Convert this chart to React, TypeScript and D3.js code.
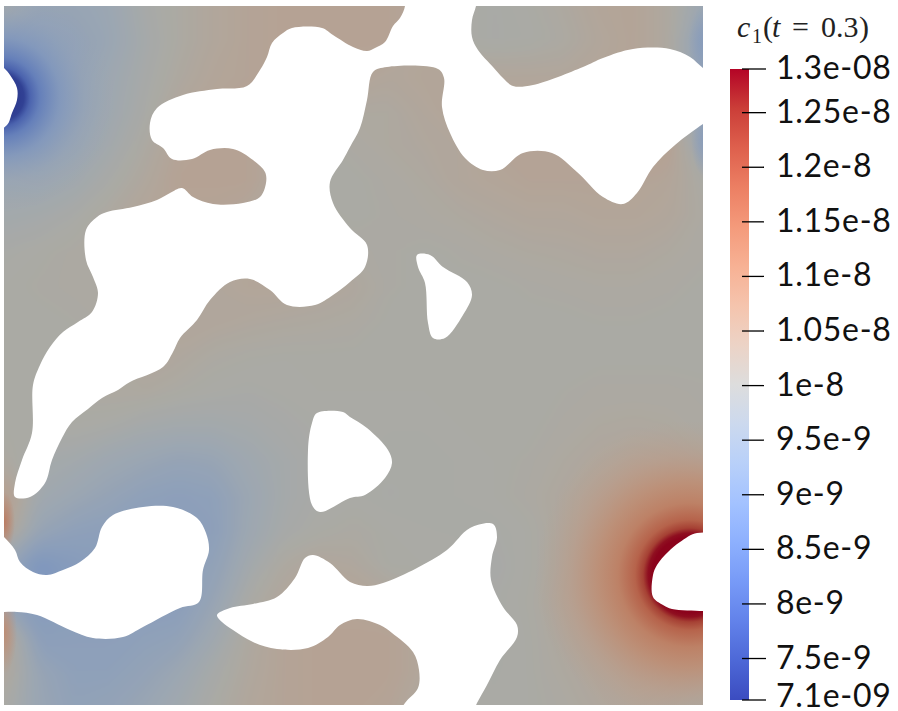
import React, { useMemo } from "react";
import * as d3 from "d3";

// concentration field, in units of 1e-9, 21 x 21 nodes
const fieldRows: number[][] = [
  [9.9,9.5,9.5,9.6,9.9,10.05,10.2,10.3,10.35,10.35,10.35,10.35,10.2,10,9.95,10,10.1,10.25,10.3,10.1,9.6],
  [9.5,9.3,9.4,9.55,9.85,10.05,10.2,10.3,10.35,10.35,10.35,10.35,10.2,10,9.95,9.98,10.05,10.2,10.3,10.1,9.3],
  [9.6,9.3,9.45,9.65,9.9,10.1,10.25,10.3,10.35,10.35,10.3,10.2,10.25,10.25,10.2,10.2,10.2,10.25,10.3,10.1,9.4],
  [9.5,9.3,9.45,9.7,9.95,10.2,10.3,10.3,10.3,10.2,10.1,10.1,10.2,10.3,10.3,10.3,10.3,10.3,10.35,10.2,9.5],
  [9.6,9.4,9.55,9.8,10.05,10.3,10.35,10.35,10.1,10,10.05,10.1,10.15,10.2,10.3,10.3,10.3,10.3,10.35,10.4,9.6],
  [9.7,9.65,9.75,9.95,10.15,10.35,10.35,10.35,10.1,10,10,10.05,10.1,10.2,10.25,10.3,10.3,10.3,10.3,10.25,10],
  [9.8,9.85,9.95,10.1,10.25,10.3,10.3,10.2,10.1,10.05,10,10.03,10.07,10.1,10.15,10.2,10.2,10.25,10.25,10.2,10.05],
  [9.95,10,10.05,10.1,10.1,10.1,10.1,10.2,10.2,10.15,10.05,10.03,10,10.03,10.07,10.1,10.12,10.15,10.15,10.1,10.05],
  [10,10.03,10.05,10.05,10.1,10.15,10.2,10.25,10.25,10.2,10.15,10.03,10,10,10,10.03,10.05,10.07,10.07,10.05,10],
  [10,10,10.02,10.05,10.1,10.2,10.2,10.15,10.12,10.1,10.07,10,10,10,10,10,10,10.02,10.02,10,10],
  [10,10,10.02,10.05,10.2,10.15,10.05,10.02,10,10,10,10,10,10,10,10,10,10,10,10,10],
  [10,10,10.05,10.1,10.1,10.03,9.98,9.95,9.98,10,10,10,10,10,10,10,10.02,10.05,10.05,10.05,10.03],
  [10,10,10,9.95,9.85,9.8,9.8,9.85,9.92,9.97,9.98,9.98,9.98,10,10,10,10.05,10.1,10.12,10.1,10.05],
  [10.1,9.85,9.8,9.65,9.55,9.45,9.5,9.7,9.85,9.95,9.98,9.97,9.97,9.98,10,10.03,10.1,10.18,10.25,10.2,10.1],
  [10.5,9.75,9.6,9.45,9.3,9.25,9.3,9.6,9.85,9.95,9.98,9.95,9.97,9.98,10,10.05,10.15,10.3,10.45,10.5,10.4],
  [10.3,9.5,9.3,9.25,9.25,9.25,9.25,9.65,9.9,10,10.05,10,9.98,9.97,9.95,10,10.15,10.35,10.55,10.8,10.9],
  [9.5,8.9,9.1,9.2,9.25,9.3,9.35,9.8,10.1,10.2,10.15,10,10,10,9.92,10,10.15,10.4,10.6,10.9,11],
  [9.4,9.1,9.2,9.2,9.2,9.2,9.5,10,10.2,10.3,10.3,10.2,10.1,10,9.95,10.02,10.2,10.4,10.6,10.9,11],
  [10.3,9.2,9.25,9.25,9.3,9.35,9.7,10.1,10.3,10.35,10.35,10.35,10.2,10,9.95,10,10.15,10.3,10.45,10.55,10.5],
  [10.2,9.5,9.3,9.3,9.4,9.6,9.9,10.15,10.3,10.35,10.35,10.35,10.2,10,9.97,10,10.1,10.2,10.3,10.25,10.1],
  [10,9.55,9.35,9.4,9.55,9.75,10,10.2,10.3,10.35,10.35,10.3,10.1,10,9.98,10,10.05,10.15,10.2,10.1,9.95],
];

// steep spots around the two inlets: [distance from spot centre, value, opacity]
const hotProfile = [[38,12.9,1],[42,12.8,1],[47,12.3,1],[55,11.8,1],[72,11.25,1],[92,10.95,0.9],[120,10.65,0.5],[155,10.4,0]];
const coldProfile = [[17,7.1,1],[24,7.2,1],[30,7.8,1],[40,8.35,0.95],[60,8.95,0.8],[85,9.25,0.3],[115,9.5,0]];

// thin boundary layers along the left and right edges: [x, y, rx, ry, value]
const edgeSpots = [
  [4,522,11,30,11.4],
  [4,632,13,42,11],
  [706,42,18,38,9.1],
  [706,140,15,38,9.1],
];

// holes in the domain, traced as outlines in field coordinates
const holes: number[][][] = [
  [[404,-4],[405,6],[400,18],[393,26],[385,42],[375,48],[367,51],[353,47],[333,35],[322,28],[292,28],[283,33],[272,43],[267,57],[260,70],[247,86],[217,89],[183,95],[157,108],[150,123],[152,140],[163,148],[172,159],[192,159],[210,150],[233,149],[253,160],[265,172],[266,183],[260,197],[243,203],[213,204],[193,197],[182,188],[170,193],[157,200],[133,207],[107,212],[97,217],[86,230],[86,260],[93,277],[98,293],[92,312],[78,322],[63,332],[50,347],[40,365],[33,385],[32,433],[22,460],[15,483],[15,497],[30,497],[45,483],[52,460],[62,438],[72,422],[88,409],[102,398],[118,390],[130,382],[163,367],[173,352],[180,338],[197,320],[210,300],[230,282],[250,279],[270,290],[287,305],[315,305],[333,295],[350,282],[365,267],[367,245],[350,228],[333,203],[330,182],[343,160],[350,147],[360,128],[367,100],[373,72],[387,67],[438,69],[444,78],[442,107],[450,133],[465,158],[483,170],[500,170],[523,153],[552,153],[577,172],[603,197],[623,204],[637,193],[653,167],[675,145],[703,124],[716,116],[716,76],[703,68],[690,57],[670,49],[633,49],[603,58],[583,67],[533,85],[513,86],[503,78],[493,67],[478,50],[472,37],[472,20],[476,6],[477,-4]],
  [[417,255],[430,255],[443,267],[467,282],[472,295],[463,315],[445,338],[433,338],[428,323],[425,283],[418,267]],
  [[317,413],[343,412],[350,417],[367,428],[388,450],[392,463],[385,478],[365,495],[350,498],[320,512],[312,505],[308,450],[312,423]],
  [[-6,528],[4,537],[15,550],[20,562],[33,572],[47,575],[63,570],[80,562],[95,548],[102,527],[113,515],[143,507],[173,507],[197,518],[206,533],[209,550],[203,570],[199,602],[180,608],[143,627],[123,637],[93,638],[70,630],[37,615],[17,612],[4,612],[-6,612]],
  [[217,615],[230,608],[253,604],[277,597],[295,578],[305,558],[313,555],[330,563],[350,582],[367,586],[383,583],[417,568],[447,550],[470,528],[493,524],[497,537],[492,557],[491,580],[503,607],[517,625],[517,637],[500,660],[487,685],[477,703],[470,716],[398,716],[405,703],[418,688],[419,670],[413,652],[392,633],[380,625],[357,619],[340,625],[328,637],[308,648],[277,649],[253,642],[233,630],[222,622]],
  [[716,537],[697,533],[680,542],[668,552],[657,565],[653,575],[653,597],[663,605],[672,609],[703,611],[716,611]],
  [[-8,60],[4,68],[10,75],[17,88],[17,100],[12,113],[7,125],[-8,132]],
];

// colour bar
const tickValues = [12.9,12.5,12,11.5,11,10.5,10,9.5,9,8.5,8,7.5,7.12];
const tickLabels = ["1.3e-08","1.25e-8","1.2e-8","1.15e-8","1.1e-8","1.05e-8","1e-8","9.5e-9","9e-9","8.5e-9","8e-9","7.5e-9","7.1e-09"];
const tickEnds = [766,766,764,764,764,764,764,764,764,764,766,766,766];

// title pieces, each placed on its own as the math layout in the picture does
const titleParts = [
  { text: "c", x: 737, italic: true },
  { text: "1", x: 752, dy: 6, size: 20 },
  { text: "(", x: 763 },
  { text: "t", x: 772, italic: true },
  { text: "=", x: 792 },
  { text: "0.3", x: 821 },
  { text: ")", x: 859 },
];

// cool to warm map
const mapColors = ["#3b4cc0","#4d68d7","#6282ea","#779af7","#8db0fe","#a3c2ff","#b8d0f9","#ccd9ee","#dddddd","#ecd3c6","#f5c4ad","#f7b194","#f49a7b","#ec7f63","#de604d","#cb3e38","#b40426"];

const FIELD = { left: 4, right: 704, top: 6, bottom: 706 };

const mapDomain = mapColors.map((_, i) => 7.1 + (5.8 * i) / (mapColors.length - 1));
const colorScale = d3.scaleLinear<string>().domain(mapDomain).range(mapColors).interpolate(d3.interpolateRgb).clamp(true);

// the surface is lit, so its colours sit below the colour bar's
const shaded = (v: number) => {
  const c = d3.rgb(colorScale(v));
  return d3.rgb(c.r * 0.77, c.g * 0.77, c.b * 0.745).formatRgb();
};

const App = () => {
  const nCols = fieldRows[0].length;
  const nRows = fieldRows.length;
  const x = d3.scaleLinear().domain([0, nCols - 1]).range([FIELD.left, FIELD.right]);
  const y = d3.scaleLinear().domain([0, nRows - 1]).range([FIELD.top, FIELD.bottom]);
  const barY = d3.scaleLinear().domain([7.12, 12.9]).range([700, 69]);

  const bands = useMemo(() => {
    // one ring of repeated nodes so the blur has something to bite on at the edges
    const flat: number[] = [];
    for (let j = -1; j <= nRows; j++) {
      for (let i = -1; i <= nCols; i++) {
        flat.push(fieldRows[Math.max(0, Math.min(nRows - 1, j))][Math.max(0, Math.min(nCols - 1, i))]);
      }
    }
    const thresholds = d3.range(8.8, 11.2, 0.02);
    const contours = d3.contours().size([nCols + 2, nRows + 2]).smooth(true).thresholds(thresholds)(flat);
    const transform = d3.geoTransform({
      point(px: number, py: number) {
        this.stream.point(x(px - 1.5), y(py - 1.5));
      },
    });
    const path = d3.geoPath(transform);
    return contours.map((c) => ({ d: path(c) || "", fill: shaded(c.value + 0.01) }));
  }, []);

  const outline = d3.line().curve(d3.curveCatmullRomClosed.alpha(0.5));

  const profileStops = (profile: number[][]) => {
    const maxR = profile[profile.length - 1][0];
    return profile.map(([r, v, a]) => (
      <stop key={r} offset={r / maxR} stopColor={shaded(v)} stopOpacity={a} />
    ));
  };

  return (
    <svg width={898} height={711} style={{ position: "absolute", left: 0, top: 0, background: "#fff" }}>
      <defs>
        <clipPath id="field-clip">
          <rect x={FIELD.left} y={FIELD.top} width={FIELD.right - FIELD.left - 1} height={FIELD.bottom - FIELD.top - 1} />
        </clipPath>
        <filter id="soft" filterUnits="userSpaceOnUse" x={-60} y={-60} width={880} height={840}>
          <feGaussianBlur stdDeviation={7} />
        </filter>
        <radialGradient id="hot" gradientUnits="userSpaceOnUse" cx={690} cy={575} r={hotProfile[hotProfile.length - 1][0]}>
          {profileStops(hotProfile)}
        </radialGradient>
        <radialGradient id="cold" gradientUnits="userSpaceOnUse" cx={0} cy={97} r={coldProfile[coldProfile.length - 1][0]}>
          {profileStops(coldProfile)}
        </radialGradient>
        {edgeSpots.map((s, i) => (
          <radialGradient key={i} id={`edge-${i}`}>
            <stop offset={0} stopColor={shaded(s[4])} stopOpacity={0.95} />
            <stop offset={1} stopColor={shaded(s[4])} stopOpacity={0} />
          </radialGradient>
        ))}
        <linearGradient id="bar-ramp" x1={0} x2={0} y1={1} y2={0}>
          {mapColors.map((c, i) => (
            <stop key={i} offset={i / (mapColors.length - 1)} stopColor={c} />
          ))}
        </linearGradient>
      </defs>

      <g clipPath="url(#field-clip)">
        <g filter="url(#soft)">
          <rect x={-40} y={-40} width={800} height={800} fill={shaded(8.8)} />
          {bands.map((b, i) => (
            <path key={i} d={b.d} fill={b.fill} />
          ))}
        </g>
        <circle cx={690} cy={575} r={hotProfile[hotProfile.length - 1][0]} fill="url(#hot)" />
        <circle cx={0} cy={97} r={coldProfile[coldProfile.length - 1][0]} fill="url(#cold)" />
        {edgeSpots.map((s, i) => (
          <ellipse key={i} cx={s[0]} cy={s[1]} rx={s[2]} ry={s[3]} fill={`url(#edge-${i})`} />
        ))}
      </g>

      {holes.map((h, i) => (
        <path key={i} d={outline(h as [number, number][]) || ""} fill="#fff" />
      ))}

      <g fontFamily="'Liberation Serif', serif" fill="#222">
        {titleParts.map((p) => (
          <text key={p.text} x={p.x} y={37 + (p.dy || 0)} fontSize={p.size || 30} fontStyle={p.italic ? "italic" : "normal"}>
            {p.text}
          </text>
        ))}
      </g>

      <rect x={730} y={69} width={19} height={631} fill="url(#bar-ramp)" />
      {tickValues.map((v, i) => (
        <g key={v}>
          <line x1={742} x2={tickEnds[i]} y1={barY(v)} y2={barY(v)} stroke="#000" strokeWidth={1.3} />
          <text
            x={776}
            y={barY(v) + (i === tickValues.length - 1 ? 7 : 10)}
            fontFamily="Lato, sans-serif"
            fontSize={32}
            letterSpacing={0.7}
            fill="#111"
          >
            {tickLabels[i]}
          </text>
        </g>
      ))}
    </svg>
  );
};

export default App;
